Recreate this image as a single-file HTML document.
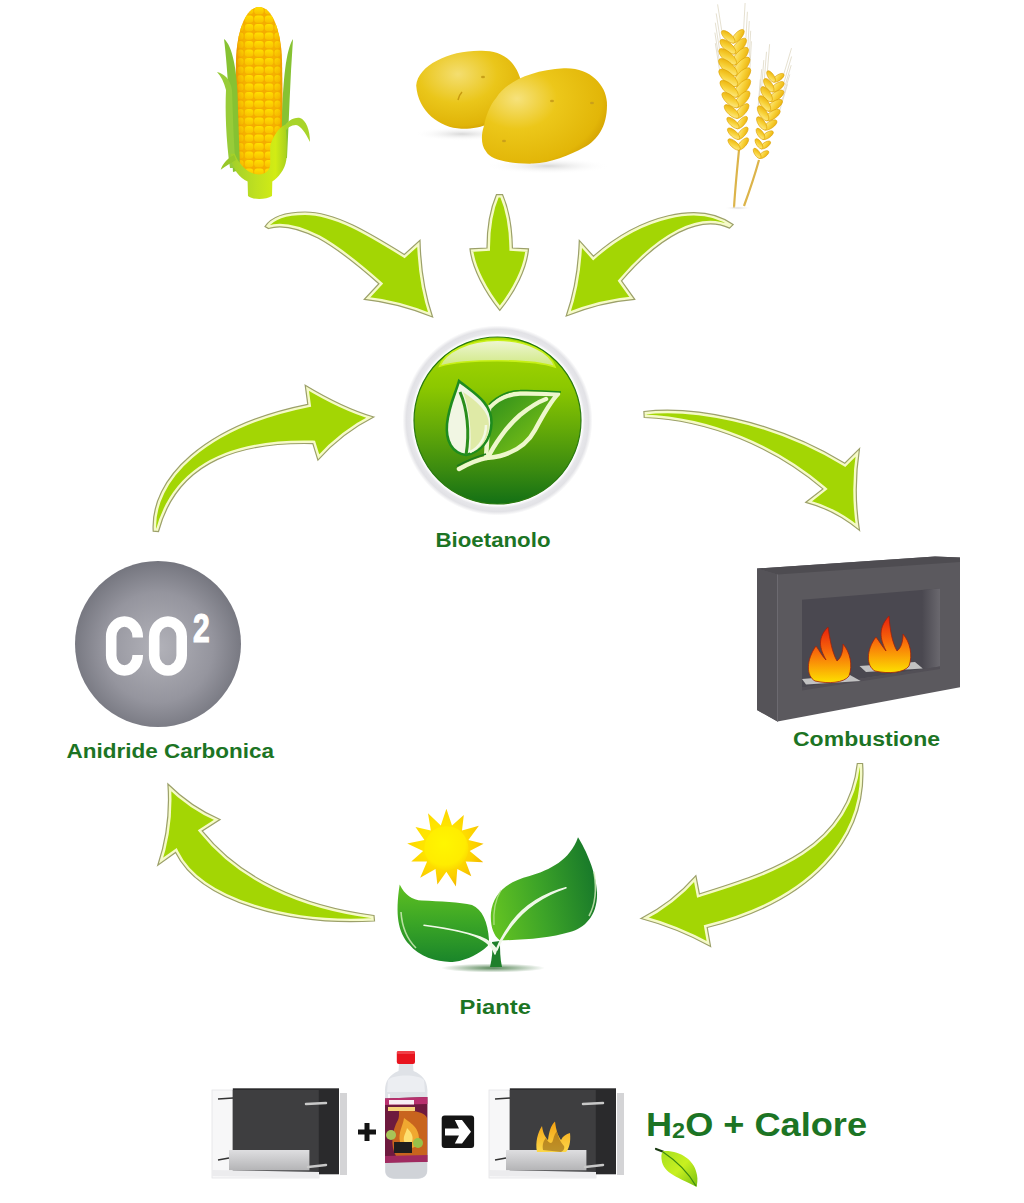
<!DOCTYPE html>
<html><head><meta charset="utf-8">
<style>
html,body{margin:0;padding:0;background:#fff;width:1024px;height:1203px;overflow:hidden}
svg{position:absolute;left:0;top:0}
.lbl{font-family:"Liberation Sans",sans-serif;font-weight:bold;fill:#1c7424}
</style></head>
<body>
<svg width="1024" height="1203" viewBox="0 0 1024 1203">
<defs>
 <linearGradient id="gGreen" x1="0" y1="0" x2="0" y2="1">
  <stop offset="0" stop-color="#a8d800"/>
  <stop offset="0.3" stop-color="#8cc800"/>
  <stop offset="0.55" stop-color="#64aa08"/>
  <stop offset="0.8" stop-color="#3a8a10"/>
  <stop offset="1" stop-color="#137015"/>
 </linearGradient>
 <radialGradient id="gGrey" cx="0.5" cy="0.52" r="0.55">
  <stop offset="0" stop-color="#b2b2b9"/>
  <stop offset="0.6" stop-color="#95959e"/>
  <stop offset="1" stop-color="#70717a"/>
 </radialGradient>
 <radialGradient id="gRing" cx="0.5" cy="0.5" r="0.5">
  <stop offset="0.89" stop-color="#ffffff"/>
  <stop offset="0.92" stop-color="#e6e6ea"/>
  <stop offset="0.96" stop-color="#e2e2e6"/>
  <stop offset="1" stop-color="#ffffff"/>
 </radialGradient>
 <linearGradient id="gGloss" x1="0" y1="0" x2="0" y2="1">
  <stop offset="0" stop-color="#eef6d4"/>
  <stop offset="1" stop-color="#cfe880"/>
 </linearGradient>
 <linearGradient id="gLeafR" x1="0" y1="0" x2="1" y2="1">
  <stop offset="0" stop-color="#2a8d1c"/>
  <stop offset="1" stop-color="#8fcd14"/>
 </linearGradient>
 <linearGradient id="gFlame" x1="0" y1="0" x2="0" y2="1">
  <stop offset="0" stop-color="#e8200c"/>
  <stop offset="0.45" stop-color="#f86a0a"/>
  <stop offset="1" stop-color="#fde000"/>
 </linearGradient>
 <radialGradient id="gShadow" cx="0.5" cy="0.5" r="0.5">
  <stop offset="0" stop-color="#2f6a2f" stop-opacity="0.8"/>
  <stop offset="1" stop-color="#2f6a2f" stop-opacity="0"/>
 </radialGradient>
 <radialGradient id="gSun" cx="0.45" cy="0.4" r="0.6">
  <stop offset="0" stop-color="#fff600"/>
  <stop offset="0.8" stop-color="#ffec00"/>
  <stop offset="1" stop-color="#fcdc00"/>
 </radialGradient>
 <linearGradient id="gPL" x1="0" y1="0" x2="0" y2="1">
  <stop offset="0" stop-color="#5fc021"/>
  <stop offset="0.5" stop-color="#3aa526"/>
  <stop offset="1" stop-color="#1a852a"/>
 </linearGradient>
 <linearGradient id="gPR" x1="0" y1="0.6" x2="1" y2="0.4">
  <stop offset="0" stop-color="#62c222"/>
  <stop offset="0.45" stop-color="#3da428"/>
  <stop offset="1" stop-color="#17782a"/>
 </linearGradient>
 <linearGradient id="gKern" x1="0" y1="0" x2="0" y2="1">
  <stop offset="0" stop-color="#ffe000"/>
  <stop offset="1" stop-color="#f8c000"/>
 </linearGradient>
 <linearGradient id="gStalk" x1="0" y1="0" x2="1" y2="0">
  <stop offset="0" stop-color="#a6d428"/>
  <stop offset="0.5" stop-color="#d8f040"/>
  <stop offset="1" stop-color="#98c820"/>
 </linearGradient>
 <radialGradient id="gPot1" cx="0.4" cy="0.3" r="0.75">
  <stop offset="0" stop-color="#f4de70"/>
  <stop offset="0.5" stop-color="#eac61a"/>
  <stop offset="0.88" stop-color="#e0b408"/>
  <stop offset="1" stop-color="#cf9c00"/>
 </radialGradient>
 <radialGradient id="gPot2" cx="0.28" cy="0.32" r="0.8">
  <stop offset="0" stop-color="#f6e27c"/>
  <stop offset="0.4" stop-color="#ecc71a"/>
  <stop offset="0.85" stop-color="#e2b608"/>
  <stop offset="1" stop-color="#cf9c00"/>
 </radialGradient>
 <radialGradient id="gSoftSh" cx="0.5" cy="0.5" r="0.5">
  <stop offset="0" stop-color="#d8d8d8"/>
  <stop offset="1" stop-color="#ffffff" stop-opacity="0"/>
 </radialGradient>
 <linearGradient id="gWheat" x1="0" y1="0" x2="1" y2="0">
  <stop offset="0" stop-color="#f0b818"/>
  <stop offset="0.5" stop-color="#fde58a"/>
  <stop offset="1" stop-color="#eab21a"/>
 </linearGradient>
 <linearGradient id="gSteel" x1="0" y1="0" x2="0" y2="1">
  <stop offset="0" stop-color="#dedee0"/>
  <stop offset="1" stop-color="#b4b4b6"/>
 </linearGradient>
 <linearGradient id="gFlame2" x1="0" y1="0" x2="0" y2="1">
  <stop offset="0" stop-color="#f4a010"/>
  <stop offset="1" stop-color="#fcd84a"/>
 </linearGradient>
 <linearGradient id="gLeafS" x1="0" y1="0" x2="1" y2="1">
  <stop offset="0" stop-color="#a6e020"/>
  <stop offset="0.5" stop-color="#c8f020"/>
  <stop offset="1" stop-color="#78c010"/>
 </linearGradient>
 <linearGradient id="gCobShade" x1="0" y1="0" x2="1" y2="0">
  <stop offset="0.12" stop-color="#e88a00" stop-opacity="0.55"/>
  <stop offset="0.35" stop-color="#ffe000" stop-opacity="0"/>
  <stop offset="0.65" stop-color="#ffe000" stop-opacity="0"/>
  <stop offset="0.88" stop-color="#e88a00" stop-opacity="0.5"/>
 </linearGradient>
 <linearGradient id="gGrain" x1="0" y1="0" x2="1" y2="1">
  <stop offset="0" stop-color="#fff2a0"/>
  <stop offset="0.5" stop-color="#f8d23a"/>
  <stop offset="1" stop-color="#e8aa00"/>
 </linearGradient>
 <radialGradient id="gRay" cx="440" cy="842" r="48" gradientUnits="userSpaceOnUse">
  <stop offset="0.4" stop-color="#ffe400"/>
  <stop offset="0.75" stop-color="#fcd000"/>
  <stop offset="1" stop-color="#f0b400"/>
 </radialGradient>
 <linearGradient id="gWall" x1="0" y1="0" x2="1" y2="0">
  <stop offset="0" stop-color="#4a4850"/>
  <stop offset="1" stop-color="#6a686e"/>
 </linearGradient>
 <linearGradient id="gHusk" x1="0" y1="0" x2="1" y2="0">
  <stop offset="0" stop-color="#a2cf2a"/>
  <stop offset="0.45" stop-color="#bfe020"/>
  <stop offset="0.8" stop-color="#d2ec14"/>
  <stop offset="1" stop-color="#a8d020"/>
 </linearGradient>
</defs>

<!-- CORN -->
<g id="corn">
 <clipPath id="cobc"><path d="M259,7 C272,7 281,30 282,60 L283,140 C283,160 275,175 259,176 C243,175 235,160 235,140 L236,60 C237,30 246,7 259,7 Z"/></clipPath>
 <g clip-path="url(#cobc)">
  <rect x="230" y="0" width="60" height="180" fill="#f4ac00"/>
  <g fill="url(#gKern)"><rect x="254.2" y="7.0" width="9.5" height="7.2" rx="3"/><rect x="244.8" y="7.0" width="8.5" height="7.2" rx="3"/><rect x="264.8" y="7.0" width="8.5" height="7.2" rx="3"/><rect x="237.5" y="7.0" width="6" height="7.2" rx="3"/><rect x="274.5" y="7.0" width="6" height="7.2" rx="3"/><rect x="254.2" y="15.5" width="9.5" height="7.2" rx="3"/><rect x="244.8" y="15.5" width="8.5" height="7.2" rx="3"/><rect x="264.8" y="15.5" width="8.5" height="7.2" rx="3"/><rect x="237.5" y="15.5" width="6" height="7.2" rx="3"/><rect x="274.5" y="15.5" width="6" height="7.2" rx="3"/><rect x="254.2" y="24.0" width="9.5" height="7.2" rx="3"/><rect x="244.8" y="24.0" width="8.5" height="7.2" rx="3"/><rect x="264.8" y="24.0" width="8.5" height="7.2" rx="3"/><rect x="237.5" y="24.0" width="6" height="7.2" rx="3"/><rect x="274.5" y="24.0" width="6" height="7.2" rx="3"/><rect x="254.2" y="32.5" width="9.5" height="7.2" rx="3"/><rect x="244.8" y="32.5" width="8.5" height="7.2" rx="3"/><rect x="264.8" y="32.5" width="8.5" height="7.2" rx="3"/><rect x="237.5" y="32.5" width="6" height="7.2" rx="3"/><rect x="274.5" y="32.5" width="6" height="7.2" rx="3"/><rect x="254.2" y="41.0" width="9.5" height="7.2" rx="3"/><rect x="244.8" y="41.0" width="8.5" height="7.2" rx="3"/><rect x="264.8" y="41.0" width="8.5" height="7.2" rx="3"/><rect x="237.5" y="41.0" width="6" height="7.2" rx="3"/><rect x="274.5" y="41.0" width="6" height="7.2" rx="3"/><rect x="254.2" y="49.5" width="9.5" height="7.2" rx="3"/><rect x="244.8" y="49.5" width="8.5" height="7.2" rx="3"/><rect x="264.8" y="49.5" width="8.5" height="7.2" rx="3"/><rect x="237.5" y="49.5" width="6" height="7.2" rx="3"/><rect x="274.5" y="49.5" width="6" height="7.2" rx="3"/><rect x="254.2" y="58.0" width="9.5" height="7.2" rx="3"/><rect x="244.8" y="58.0" width="8.5" height="7.2" rx="3"/><rect x="264.8" y="58.0" width="8.5" height="7.2" rx="3"/><rect x="237.5" y="58.0" width="6" height="7.2" rx="3"/><rect x="274.5" y="58.0" width="6" height="7.2" rx="3"/><rect x="254.2" y="66.5" width="9.5" height="7.2" rx="3"/><rect x="244.8" y="66.5" width="8.5" height="7.2" rx="3"/><rect x="264.8" y="66.5" width="8.5" height="7.2" rx="3"/><rect x="237.5" y="66.5" width="6" height="7.2" rx="3"/><rect x="274.5" y="66.5" width="6" height="7.2" rx="3"/><rect x="254.2" y="75.0" width="9.5" height="7.2" rx="3"/><rect x="244.8" y="75.0" width="8.5" height="7.2" rx="3"/><rect x="264.8" y="75.0" width="8.5" height="7.2" rx="3"/><rect x="237.5" y="75.0" width="6" height="7.2" rx="3"/><rect x="274.5" y="75.0" width="6" height="7.2" rx="3"/><rect x="254.2" y="83.5" width="9.5" height="7.2" rx="3"/><rect x="244.8" y="83.5" width="8.5" height="7.2" rx="3"/><rect x="264.8" y="83.5" width="8.5" height="7.2" rx="3"/><rect x="237.5" y="83.5" width="6" height="7.2" rx="3"/><rect x="274.5" y="83.5" width="6" height="7.2" rx="3"/><rect x="254.2" y="92.0" width="9.5" height="7.2" rx="3"/><rect x="244.8" y="92.0" width="8.5" height="7.2" rx="3"/><rect x="264.8" y="92.0" width="8.5" height="7.2" rx="3"/><rect x="237.5" y="92.0" width="6" height="7.2" rx="3"/><rect x="274.5" y="92.0" width="6" height="7.2" rx="3"/><rect x="254.2" y="100.5" width="9.5" height="7.2" rx="3"/><rect x="244.8" y="100.5" width="8.5" height="7.2" rx="3"/><rect x="264.8" y="100.5" width="8.5" height="7.2" rx="3"/><rect x="237.5" y="100.5" width="6" height="7.2" rx="3"/><rect x="274.5" y="100.5" width="6" height="7.2" rx="3"/><rect x="254.2" y="109.0" width="9.5" height="7.2" rx="3"/><rect x="244.8" y="109.0" width="8.5" height="7.2" rx="3"/><rect x="264.8" y="109.0" width="8.5" height="7.2" rx="3"/><rect x="237.5" y="109.0" width="6" height="7.2" rx="3"/><rect x="274.5" y="109.0" width="6" height="7.2" rx="3"/><rect x="254.2" y="117.5" width="9.5" height="7.2" rx="3"/><rect x="244.8" y="117.5" width="8.5" height="7.2" rx="3"/><rect x="264.8" y="117.5" width="8.5" height="7.2" rx="3"/><rect x="237.5" y="117.5" width="6" height="7.2" rx="3"/><rect x="274.5" y="117.5" width="6" height="7.2" rx="3"/><rect x="254.2" y="126.0" width="9.5" height="7.2" rx="3"/><rect x="244.8" y="126.0" width="8.5" height="7.2" rx="3"/><rect x="264.8" y="126.0" width="8.5" height="7.2" rx="3"/><rect x="237.5" y="126.0" width="6" height="7.2" rx="3"/><rect x="274.5" y="126.0" width="6" height="7.2" rx="3"/><rect x="254.2" y="134.5" width="9.5" height="7.2" rx="3"/><rect x="244.8" y="134.5" width="8.5" height="7.2" rx="3"/><rect x="264.8" y="134.5" width="8.5" height="7.2" rx="3"/><rect x="237.5" y="134.5" width="6" height="7.2" rx="3"/><rect x="274.5" y="134.5" width="6" height="7.2" rx="3"/><rect x="254.2" y="143.0" width="9.5" height="7.2" rx="3"/><rect x="244.8" y="143.0" width="8.5" height="7.2" rx="3"/><rect x="264.8" y="143.0" width="8.5" height="7.2" rx="3"/><rect x="237.5" y="143.0" width="6" height="7.2" rx="3"/><rect x="274.5" y="143.0" width="6" height="7.2" rx="3"/><rect x="254.2" y="151.5" width="9.5" height="7.2" rx="3"/><rect x="244.8" y="151.5" width="8.5" height="7.2" rx="3"/><rect x="264.8" y="151.5" width="8.5" height="7.2" rx="3"/><rect x="237.5" y="151.5" width="6" height="7.2" rx="3"/><rect x="274.5" y="151.5" width="6" height="7.2" rx="3"/><rect x="254.2" y="160.0" width="9.5" height="7.2" rx="3"/><rect x="244.8" y="160.0" width="8.5" height="7.2" rx="3"/><rect x="264.8" y="160.0" width="8.5" height="7.2" rx="3"/><rect x="237.5" y="160.0" width="6" height="7.2" rx="3"/><rect x="274.5" y="160.0" width="6" height="7.2" rx="3"/><rect x="254.2" y="168.5" width="9.5" height="7.2" rx="3"/><rect x="244.8" y="168.5" width="8.5" height="7.2" rx="3"/><rect x="264.8" y="168.5" width="8.5" height="7.2" rx="3"/><rect x="237.5" y="168.5" width="6" height="7.2" rx="3"/><rect x="274.5" y="168.5" width="6" height="7.2" rx="3"/></g>
  <rect x="230" y="0" width="60" height="180" fill="url(#gCobShade)"/>
 </g>
 <path d="M224,39 C232,45 238,70 238,110 L240,170 L233,172 C230,120 228,70 224,39 Z" fill="#86c232"/>
 <path d="M217,72 C224,74 230,78 232,90 C233,120 234,150 236,168 L230,168 C226,140 225,110 226,90 C224,82 221,76 217,72 Z" fill="#98cc38"/>
 <path d="M293,39 C286,50 283,80 282,120 L281,160 L287,158 C289,120 290,80 293,39 Z" fill="#86c232"/>
 <path d="M283,128 C287,121 294,117 300,118 C306,120 310,130 310,142 C305,132 301,126 296,125 C291,125 287,128 285,132 Z" fill="#a8d42a"/>
 <path d="M234.7,153.7 C238,162 246,174 259,174.5 C266,174 270,170 270.2,164.4 L270.2,146.2 C272,138 278,128 285.2,124.7 C287,135 287,150 286.3,160.1 C285,170 278,178 272.3,181.6 L272,196 C266,200 252,200 248,196 L247.6,181.6 C240,178 232,170 230.4,153.7 Z" fill="url(#gHusk)"/>
 <path d="M234,155 C228,158 223,163 220.7,169.8 C226,166 231,163 236,160 Z" fill="#98c828"/>
</g>

<!-- POTATOES -->
<g id="potatoes">
 <ellipse cx="462" cy="134" rx="48" ry="7" fill="url(#gSoftSh)"/>
 <ellipse cx="548" cy="166" rx="62" ry="8" fill="url(#gSoftSh)"/>
 <path d="M416.2,85.6 C418,65 450,50 481.8,50.8 C500,51 514,58 520.7,79.5 C522,95 510,115 492,122.5 C480,128 470,129 461.3,128.7 C440,128 418,112 416.2,85.6 Z" fill="url(#gPot1)"/>
 <path d="M496.1,97.9 C505,83 530,70 563.8,68.2 C590,67 606,85 606.9,102 C608,125 598,140 584.3,147.2 C570,155 550,163 533,163.6 C510,164 490,160 485.9,151.3 C481,145 481,135 483.8,126.6 C486,115 490,105 496.1,97.9 Z" fill="url(#gPot2)"/>
 <path d="M458,100 C459,96 461,93 462,92" stroke="#c89a10" stroke-width="1.5" fill="none"/>
 <ellipse cx="483" cy="77" rx="2" ry="1.3" fill="#c8a018"/>
 <ellipse cx="552" cy="101" rx="2" ry="1.3" fill="#caa01a"/><ellipse cx="592" cy="103" rx="2" ry="1.3" fill="#caa01a"/><ellipse cx="504" cy="141" rx="2" ry="1.3" fill="#caa01a"/>
</g>

<!-- WHEAT -->
<g id="wheat">
 <path d="M739,150 C737,170 735,190 734,208" fill="none" stroke="#dcb44a" stroke-width="2.2"/>
 <path d="M759,160 C754,178 748,195 744,206" fill="none" stroke="#dcb44a" stroke-width="2.2"/>
 <ellipse cx="738" cy="208" rx="14" ry="2" fill="url(#gSoftSh)"/>
 <g stroke="#e2dccb" stroke-width="0.9" fill="none"><path d="M743.6,29.9 L745.1,3.0 M721.8,31.0 L717.6,4.4 M745.9,38.7 L747.4,11.8 M720.4,40.0 L716.2,13.4 M747.8,47.9 L749.3,21.0 M719.5,49.4 L715.3,22.7 M749.2,57.7 L750.7,30.8 M719.1,59.3 L714.9,32.6 M749.9,68.3 L751.4,41.3 M719.5,69.8 L715.3,43.2 M783.8,74.1 L791.5,48.2 M767.4,71.0 L769.6,44.2 M784.0,82.4 L791.6,56.5 M764.4,78.7 L766.5,51.8 M783.5,91.0 L791.2,65.2 M761.7,87.0 L763.8,60.1 M782.1,100.3 L789.8,74.4 M759.6,96.1 L761.7,69.2 M779.8,110.2 L787.5,84.3 M758.2,106.2 L760.3,79.3"/></g>
 <g fill="url(#gGrain)" stroke="#dca000" stroke-width="0.6"><ellipse cx="737.9" cy="36.3" rx="8.6" ry="3.6" transform="rotate(-48 737.9 36.3)"/><ellipse cx="728.2" cy="36.8" rx="8.6" ry="3.6" transform="rotate(-138 728.2 36.8)"/><ellipse cx="739.2" cy="46.1" rx="10.0" ry="4.2" transform="rotate(-48 739.2 46.1)"/><ellipse cx="727.9" cy="46.7" rx="10.0" ry="4.2" transform="rotate(-138 727.9 46.7)"/><ellipse cx="740.3" cy="56.2" rx="11.2" ry="4.7" transform="rotate(-48 740.3 56.2)"/><ellipse cx="727.7" cy="56.8" rx="11.2" ry="4.7" transform="rotate(-138 727.7 56.8)"/><ellipse cx="741.3" cy="66.5" rx="11.8" ry="4.9" transform="rotate(-48 741.3 66.5)"/><ellipse cx="727.9" cy="67.2" rx="11.8" ry="4.9" transform="rotate(-138 727.9 67.2)"/><ellipse cx="741.9" cy="77.2" rx="12.0" ry="5.0" transform="rotate(-48 741.9 77.2)"/><ellipse cx="728.3" cy="77.8" rx="12.0" ry="5.0" transform="rotate(-138 728.3 77.8)"/><ellipse cx="742.2" cy="88.1" rx="11.5" ry="4.8" transform="rotate(-48 742.2 88.1)"/><ellipse cx="729.1" cy="88.8" rx="11.5" ry="4.8" transform="rotate(-138 729.1 88.8)"/><ellipse cx="742.2" cy="99.4" rx="10.6" ry="4.4" transform="rotate(-48 742.2 99.4)"/><ellipse cx="730.3" cy="100.0" rx="10.6" ry="4.4" transform="rotate(-138 730.3 100.0)"/><ellipse cx="742.1" cy="111.0" rx="9.3" ry="3.9" transform="rotate(-48 742.1 111.0)"/><ellipse cx="731.6" cy="111.5" rx="9.3" ry="3.9" transform="rotate(-138 731.6 111.5)"/><ellipse cx="741.8" cy="122.6" rx="7.8" ry="3.2" transform="rotate(-48 741.8 122.6)"/><ellipse cx="733.0" cy="123.0" rx="7.8" ry="3.2" transform="rotate(-138 733.0 123.0)"/><ellipse cx="742.4" cy="133.3" rx="7.8" ry="3.2" transform="rotate(-48 742.4 133.3)"/><ellipse cx="733.6" cy="133.7" rx="7.8" ry="3.2" transform="rotate(-138 733.6 133.7)"/><ellipse cx="742.9" cy="144.0" rx="7.8" ry="3.2" transform="rotate(-48 742.9 144.0)"/><ellipse cx="734.1" cy="144.5" rx="7.8" ry="3.2" transform="rotate(-138 734.1 144.5)"/><ellipse cx="778.4" cy="77.8" rx="6.6" ry="2.9" transform="rotate(-34 778.4 77.8)"/><ellipse cx="771.1" cy="76.5" rx="6.6" ry="2.9" transform="rotate(-124 771.1 76.5)"/><ellipse cx="777.5" cy="86.8" rx="7.8" ry="3.5" transform="rotate(-34 777.5 86.8)"/><ellipse cx="768.8" cy="85.2" rx="7.8" ry="3.5" transform="rotate(-124 768.8 85.2)"/><ellipse cx="776.3" cy="95.9" rx="8.7" ry="3.9" transform="rotate(-34 776.3 95.9)"/><ellipse cx="766.6" cy="94.1" rx="8.7" ry="3.9" transform="rotate(-124 766.6 94.1)"/><ellipse cx="774.7" cy="105.4" rx="9.0" ry="4.0" transform="rotate(-34 774.7 105.4)"/><ellipse cx="764.7" cy="103.5" rx="9.0" ry="4.0" transform="rotate(-124 764.7 103.5)"/><ellipse cx="772.7" cy="115.1" rx="8.7" ry="3.8" transform="rotate(-34 772.7 115.1)"/><ellipse cx="763.1" cy="113.3" rx="8.7" ry="3.8" transform="rotate(-124 763.1 113.3)"/><ellipse cx="770.3" cy="125.0" rx="7.7" ry="3.4" transform="rotate(-34 770.3 125.0)"/><ellipse cx="761.7" cy="123.4" rx="7.7" ry="3.4" transform="rotate(-124 761.7 123.4)"/><ellipse cx="767.7" cy="135.2" rx="6.5" ry="2.9" transform="rotate(-34 767.7 135.2)"/><ellipse cx="760.5" cy="133.9" rx="6.5" ry="2.9" transform="rotate(-124 760.5 133.9)"/><ellipse cx="765.5" cy="145.0" rx="5.9" ry="2.6" transform="rotate(-34 765.5 145.0)"/><ellipse cx="759.0" cy="143.8" rx="5.9" ry="2.6" transform="rotate(-124 759.0 143.8)"/><ellipse cx="763.7" cy="154.6" rx="5.9" ry="2.6" transform="rotate(-34 763.7 154.6)"/><ellipse cx="757.2" cy="153.4" rx="5.9" ry="2.6" transform="rotate(-124 757.2 153.4)"/></g>
</g>

<!-- ARROWS -->
<g id="arrows">
 <clipPath id="a1c"><path id="a1" d="M265,226.5 C272,216 288,212 305,212 C335,212 368,232 404.3,254.5 L420,240.4 Q421,283 432.6,317 Q398,303 364.3,299.4 L378.9,283.75 C360,267 340,250 318,238 C300,229 282,224 268.5,228.5 Z"/></clipPath>
 <use href="#a1" fill="#a3d604" stroke="#f5fac8" stroke-width="6" clip-path="url(#a1c)"/>
 <use href="#a1" fill="none" stroke="#9ca06a" stroke-width="1.2"/>

 <clipPath id="a2c"><path id="a2" d="M496.5,194.6 L502.5,194.6 C507,205 512,222 512.4,248 L528.5,248.9 C527,268 515,292 499.8,310.4 C485,292 472,268 470,248.9 L487,248 C487,222 492,205 496.5,194.6 Z"/></clipPath>
 <use href="#a2" fill="#a3d604" stroke="#f5fac8" stroke-width="6" clip-path="url(#a2c)"/>
 <use href="#a2" fill="none" stroke="#9ca06a" stroke-width="1.2"/>

 <clipPath id="a3c"><path id="a3" d="M733.1,224.6 C700,200 640,215 593.4,256.2 L579.3,240.4 Q578,282 566.2,316 Q601,302 634.7,299.3 L621.5,280.9 C660,236 700,214 729.6,228.1 Z"/></clipPath>
 <use href="#a3" fill="#a3d604" stroke="#f5fac8" stroke-width="6" clip-path="url(#a3c)"/>
 <use href="#a3" fill="none" stroke="#9ca06a" stroke-width="1.2"/>

 <clipPath id="a4c"><path id="a4" d="M153.2,531.2 C150,478 205,425 307.8,404.3 L305.2,385.2 Q343,408 373.8,417 Q342,433 317.9,460.1 L312.8,443.6 C245,442 178,458 158.5,531.5 Z"/></clipPath>
 <use href="#a4" fill="#a3d604" stroke="#f5fac8" stroke-width="6" clip-path="url(#a4c)"/>
 <use href="#a4" fill="none" stroke="#9ca06a" stroke-width="1.2"/>

 <clipPath id="a5c"><path id="a5" d="M643.9,411.5 C690,406 770,418 844.8,463.2 L859.5,448.6 Q853,490 859.5,530.4 Q835,510 805.8,502.3 L822.9,488.9 C775,448 710,420 644.2,417.5 Z"/></clipPath>
 <use href="#a5" fill="#a3d604" stroke="#f5fac8" stroke-width="6" clip-path="url(#a5c)"/>
 <use href="#a5" fill="none" stroke="#9ca06a" stroke-width="1.2"/>

 <clipPath id="a6c"><path id="a6" d="M374,915.5 C300,906 240,878 202.2,830.9 L220,819.5 Q191,807 167.9,784 Q171,826 157.8,865.2 L175.6,852.5 C200,902 290,926 374.5,921 Z"/></clipPath>
 <use href="#a6" fill="#a3d604" stroke="#f5fac8" stroke-width="6" clip-path="url(#a6c)"/>
 <use href="#a6" fill="none" stroke="#9ca06a" stroke-width="1.2"/>

 <clipPath id="a7c"><path id="a7" d="M862.6,763.5 C868,840 810,902 707.2,927.5 L710.6,946.5 Q677,928 641,918.5 Q672,903 695.9,875.7 L699.4,893.9 C770,872 848,848 857.3,763.5 Z"/></clipPath>
 <use href="#a7" fill="#a3d604" stroke="#f5fac8" stroke-width="6" clip-path="url(#a7c)"/>
 <use href="#a7" fill="none" stroke="#9ca06a" stroke-width="1.2"/>
</g>

<!-- BIOETANOLO CIRCLE -->
<g id="bio">
 <circle cx="497.5" cy="420.5" r="95" fill="url(#gRing)"/>
 <circle cx="497.5" cy="420.5" r="83.5" fill="url(#gGreen)" stroke="#2a7a10" stroke-width="1.2"/>
 <path d="M439.6,366.2 C445,352 468,340.3 497.5,340.3 C527,340.3 550,352 555.1,366.9 C540,362 520,360.8 497.5,360.8 C475,360.8 455,362 439.6,366.2 Z" fill="url(#gGloss)" stroke="#c8f018" stroke-width="1.6"/>
 <!-- right leaf -->
 <path d="M489,408 C498,398 510,394 520,393.5 C535,393 548,394 558,394 C550,402 543,415 535,430 C527,445 515,452 500,456 C494,457.5 490,457.8 486,458 Z" fill="url(#gLeafR)" stroke="#eef7cc" stroke-width="4.5" stroke-linejoin="round"/>
 <path d="M489,404.5 C498,395 510,390.5 520,390.5 C535,390 548,391 561,392" fill="none" stroke="#1f8a1c" stroke-width="1.5"/>
 <path d="M459,469 C466,465 476,460 488,457.6 C493,447 505,428 520,415 C530,407 538,402 546,399" fill="none" stroke="#eef7cc" stroke-width="4.5" stroke-linecap="round"/>
 <path d="M457,466 C466,461 476,457 486,454" fill="none" stroke="#1c7a1c" stroke-width="1.6"/>
 <!-- left leaf -->
 <path d="M459,381 C472,392 492,402 491.5,423 C491,441 480,452 466,455 C452,453 445.5,441 447,424 C449,405 455,395 459,381 Z" fill="#f1f6e3" stroke="#1e8c1e" stroke-width="2.6"/>
 <path d="M463,392 C478,402 489,412 489,425 C489,440 480,450 470,453 C472,435 470,410 463,392 Z" fill="#dfeaa6"/>
 <path d="M486,425 C486,438 479,448 470,452" fill="none" stroke="#f4f9e4" stroke-width="2.5"/>
 <path d="M460,392 C467,408 470,432 466,455" fill="none" stroke="#2a8e1c" stroke-width="3"/>
</g>

<!-- CO2 -->
<g id="co2">
 <circle cx="158" cy="644" r="83" fill="url(#gGrey)"/>
 <clipPath id="cClip"><path clip-rule="evenodd" d="M95,605 H150 V685 H95 Z M127,637.5 H150 V655 H127 Z"/></clipPath>
 <rect x="111.2" y="621.5" width="26.5" height="49" rx="13.25" ry="15" fill="none" stroke="#fff" stroke-width="10.6" clip-path="url(#cClip)"/>
 <rect x="154.2" y="621.5" width="27.5" height="49" rx="13.75" ry="15" fill="none" stroke="#fff" stroke-width="10.6"/>
 <text x="193" y="642.5" font-family="Liberation Sans" font-weight="bold" font-size="40" fill="#fff" stroke="#fff" stroke-width="1.2" transform="translate(193 642.5) scale(0.75 1) translate(-193 -642.5)">2</text>
</g>

<!-- FIREPLACE -->
<g id="fire">
 <path d="M757,568.6 L935,556.5 L960,557.5 L960,687.3 L777.5,721.6 L757,710 Z" fill="#5b595e"/>
 <path d="M757,568.6 L935,556.5 L960,557.5 L960,562 L777.5,574.5 Z" fill="#4e4c51"/>
 <path d="M757,568.6 L777.5,574.5 L777.5,721.6 L757,710 Z" fill="#555358"/>
 <path d="M777.5,574.5 L777.5,721.6" stroke="#6c6a70" stroke-width="1"/>
 <path d="M802,599.8 L940,588.5 L940,666.5 L802,687.6 Z" fill="#4a4850"/>
 <path d="M922,590 L940,588.5 L940,666.5 L922,669.2 Z" fill="url(#gWall)"/>
 <path d="M802,687.6 L940,666.5 L940,669 L802,690.5 Z" fill="#524f56"/>
 <!-- trays -->
 <path d="M802,679 L850,675 L860.7,681 L806,684.5 Z" fill="#c2c2c2"/>
 <path d="M859.5,666 L915,662 L922.8,668.5 L866,672 Z" fill="#c2c2c2"/>
 <!-- flames -->
 <path d="M828,627 C815,640 822,652 826,660 C822,656 819,650 816,646 C806,660 806,676 815,681 C828,684 844,683 849,676 C853,665 850,652 843,644 C843,652 841,658 837,661 C832,652 830,640 828,627 Z" fill="url(#gFlame)" stroke="#a0200a" stroke-width="0.8"/>
 <path d="M889,616 C876,630 882,642 886,651 C882,646 879,641 876,637 C866,650 866,666 875,671 C888,674 904,673 909,666 C913,655 910,642 903,634 C903,642 901,648 897,651 C892,642 890,630 889,616 Z" fill="url(#gFlame)" stroke="#a0200a" stroke-width="0.8"/>
</g>

<!-- PLANT -->
<g id="plant">
 <ellipse cx="493" cy="968" rx="52" ry="4.5" fill="url(#gShadow)"/>
 <path d="M446.4,808.7 L452.0,825.4 L463.8,815.0 L462.0,830.6 L478.9,825.8 L468.4,839.9 L483.6,843.7 L469.7,851.0 L483.3,862.2 L465.7,861.5 L471.3,876.3 L457.3,869.0 L455.9,886.6 L446.4,871.7 L437.4,884.6 L435.5,869.0 L420.2,877.8 L427.1,861.5 L411.3,861.5 L423.1,851.0 L407.2,843.4 L424.4,839.9 L415.5,826.9 L430.8,830.6 L428.0,813.2 L440.8,825.4 Z" fill="url(#gRay)"/>
 <circle cx="446.4" cy="848.2" r="22" fill="url(#gSun)"/>
 <!-- left leaf -->
 <path d="M399.7,884.4 C405,895 412,900 422,900.5 C440,901.5 460,902 472,905 C482,909 488,922 489,940 C489,944 488,946 486.7,946.7 C480,953 468,960 454.4,961.8 C440,963 420,958 409.3,944.6 C398,932 395,915 399.7,884.4 Z" fill="url(#gPL)"/>
 <path d="M401,912 C402,928 408,940 416,948" fill="none" stroke="#d8f0c0" stroke-width="1.6" opacity="0.8"/>
 <!-- right leaf -->
 <path d="M578,837.2 C586,850 596,872 597,892 C598,915 585,928 570,932 C550,938 525,940 499.6,940.3 C493,935 490,925 491,912.4 C493,895 505,882 529.6,875.9 C550,870 570,860 578,837.2 Z" fill="url(#gPR)"/>
 <path d="M594,872 C597,890 595,905 589,916" fill="none" stroke="#d8f0c0" stroke-width="1.6" opacity="0.8"/>
 <path d="M501,890 C495,900 493,910 494,925" fill="none" stroke="#c8eaa0" stroke-width="1.4" opacity="0.7"/>
 <!-- stem -->
 <path d="M490,967 C492,958 493,950 492,942 L500,941 C500,950 500,958 502,967 Z" fill="#1f7f2a"/>
 <path d="M424,925.3 C445,928 470,932 483,940 C490,944 493,948 495,954 C497,946 502,936 512,922 C525,905 545,893 566,887.7 C545,895 525,908 512,925 C505,934 500,942 497,950 C493,944 488,940 480,937 C465,932 445,928 424,925.3 Z" fill="#f0f8e8" stroke="#f0f8e8" stroke-width="1.5" stroke-linejoin="round"/>
</g>

<!-- BOTTOM ROW -->
<g id="bottom">
<g transform="translate(0 0)">
 <rect x="212" y="1090" width="107" height="88" fill="#f7f7f8" stroke="#e4e4e6" stroke-width="0.8"/>
 <rect x="340" y="1093" width="7" height="82" fill="#d4d4d6"/>
 <rect x="232.8" y="1088.3" width="106.2" height="86" fill="#2a2a2c"/>
 <rect x="232.8" y="1090" width="86" height="84" fill="#3e3e40"/>
 <rect x="229" y="1150" width="80.4" height="20.3" fill="url(#gSteel)"/>
 <path d="M212,1170 L319,1172 L319,1178 L212,1176 Z" fill="#ececee"/>
 <path d="M218,1099 L233,1098" stroke="#333" stroke-width="1.5"/>
 <path d="M218,1160 L229,1158" stroke="#333" stroke-width="1.5"/>
 <path d="M306,1104 L326,1103" stroke="#c8c8c8" stroke-width="2.5" stroke-linecap="round"/>
 <path d="M308,1167 L326,1165" stroke="#c8c8c8" stroke-width="2.5" stroke-linecap="round"/>
</g><g transform="translate(277 0)">
 <rect x="212" y="1090" width="107" height="88" fill="#f7f7f8" stroke="#e4e4e6" stroke-width="0.8"/>
 <rect x="340" y="1093" width="7" height="82" fill="#d4d4d6"/>
 <rect x="232.8" y="1088.3" width="106.2" height="86" fill="#2a2a2c"/>
 <rect x="232.8" y="1090" width="86" height="84" fill="#3e3e40"/>
 <rect x="229" y="1150" width="80.4" height="20.3" fill="url(#gSteel)"/>
 <path d="M212,1170 L319,1172 L319,1178 L212,1176 Z" fill="#ececee"/>
 <path d="M218,1099 L233,1098" stroke="#333" stroke-width="1.5"/>
 <path d="M218,1160 L229,1158" stroke="#333" stroke-width="1.5"/>
 <path d="M306,1104 L326,1103" stroke="#c8c8c8" stroke-width="2.5" stroke-linecap="round"/>
 <path d="M308,1167 L326,1165" stroke="#c8c8c8" stroke-width="2.5" stroke-linecap="round"/>
</g>
 <!-- flames small -->
 <path d="M537,1152 C535,1142 538,1132 542,1126 C543,1134 546,1138 548,1140 C549,1132 551,1125 555,1121.5 C556,1130 558,1136 561,1140 C563,1136 566,1134 570,1133 C571,1142 569,1149 566,1152 Z" fill="url(#gFlame2)"/>
 <path d="M543,1150 C542,1144 544,1140 546,1138 C548,1143 552,1145 553,1140 C554,1135 556,1132 557,1131 C558,1138 562,1144 564,1146 C565,1149 563,1151 561,1152 Z" fill="#8a5a10" opacity="0.55"/>
 <!-- plus -->
 <path d="M358,1132 L376,1132 M367,1123 L367,1141" stroke="#141414" stroke-width="5"/>
 <!-- bottle -->
 <rect x="396.8" y="1051" width="18.2" height="13" rx="2" fill="#e8141e"/>
 <rect x="396.8" y="1051" width="18.2" height="3" rx="1.5" fill="#f04048"/>
 <path d="M399,1064 L413,1064 L413.5,1071 C423,1075 427,1081 427.4,1090 L427.4,1170 C427.4,1176 423,1179 416,1179 L396,1179 C389,1179 385,1176 385,1170 L385,1090 C385.4,1081 389,1075 398.5,1071 Z" fill="#dfe2e7"/>
 <path d="M388,1080 C393,1074 419,1074 424,1080 L425,1092 L387,1092 Z" fill="#eceef2"/>
 <path d="M389,1094 L389,1170" stroke="#f4f6f8" stroke-width="2"/>
 <path d="M385,1098.6 L427.4,1097 L427.4,1162 L385,1163 Z" fill="#6e1a3e"/>
 <path d="M385,1098.6 L427.4,1097 L427.4,1104 L385,1105 Z" fill="#b8306e"/>
 <path d="M400,1108 C410,1112 424,1110 427,1118 L427,1158 C418,1160 405,1160 396,1156 C390,1146 392,1130 398,1120 C400,1115 398,1112 400,1108 Z" fill="#c8641e"/>
 <path d="M404,1118 C412,1124 420,1128 419,1142 C416,1150 404,1150 400,1142 C398,1132 403,1126 404,1118 Z" fill="#f0a830"/>
 <path d="M407,1128 C411,1132 414,1136 412,1142 C410,1145 405,1145 404,1141 C403,1136 406,1133 407,1128 Z" fill="#fde070"/>
 <rect x="394" y="1142" width="18" height="11" fill="#1e1e1e"/>
 <rect x="389" y="1100" width="25" height="4.5" fill="#f8eef4"/>
 <rect x="388" y="1107" width="27" height="4" fill="#f6d27a"/>
 <circle cx="391" cy="1135" r="5" fill="#a8c458"/>
 <circle cx="418" cy="1143" r="5" fill="#98c048"/>
 <path d="M385,1156 L427.4,1155 L427.4,1162 L385,1163 Z" fill="#a02a60"/>
 <path d="M385.5,1163 L427,1162 L427,1171 C427,1176 423,1178.5 416,1178.5 L396,1178.5 C389,1178.5 385.5,1176 385.5,1171 Z" fill="#d0d3d8"/>
 <!-- arrow box -->
 <rect x="441.7" y="1115.5" width="32.4" height="32.4" rx="3" fill="#141414"/>
 <path d="M445,1128.5 L459,1128.5 L454.8,1120 L462,1120 L471,1131.7 L462,1143.5 L454.8,1143.5 L459,1135.5 L445,1135.5 Z" fill="#fff"/>
 <!-- leaf -->
 <path d="M656,1149 L664,1152" stroke="#1a3a10" stroke-width="2.2" stroke-linecap="round"/>
 <path d="M663,1151 C680,1150 695,1160 697,1175 C698,1180 697,1184 696.7,1187 C685,1180 665,1175 662,1162 C661,1157 661,1154 663,1151 Z" fill="url(#gLeafS)"/>
 <path d="M663,1152 C675,1160 688,1172 696,1186" fill="none" stroke="#3d8a10" stroke-width="1.2"/>
</g>

<text class="lbl" x="435.5" y="547" font-size="20.5" textLength="115" lengthAdjust="spacingAndGlyphs">Bioetanolo</text>
<text class="lbl" x="793" y="746" font-size="20.5" textLength="147" lengthAdjust="spacingAndGlyphs">Combustione</text>
<text class="lbl" x="66.5" y="758" font-size="20.5" textLength="207.5" lengthAdjust="spacingAndGlyphs">Anidride Carbonica</text>
<text class="lbl" x="459.5" y="1014" font-size="20.5" textLength="71.5" lengthAdjust="spacingAndGlyphs">Piante</text>
<text class="lbl" x="646" y="1136" font-size="34" textLength="221" lengthAdjust="spacingAndGlyphs">H<tspan font-size="22" dy="2">2</tspan><tspan dy="-2">O + Calore</tspan></text>
</svg>
</body></html>
